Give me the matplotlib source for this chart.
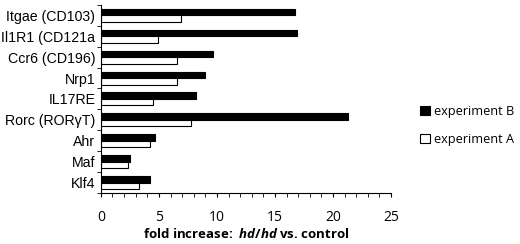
import numpy as np
import matplotlib.pyplot as plt
from matplotlib.ticker import MultipleLocator, FixedLocator

genes = ['Itgae (CD103)', 'Il1R1 (CD121a', 'Ccr6 (CD196)', 'Nrp1', 'IL17RE',
         'Rorc (ROR\u03b3T)', 'Ahr', 'Maf', 'Klf4']
exp_b = [16.7, 16.9, 9.7, 9.0, 8.2, 21.3, 4.7, 2.5, 4.2]
exp_a = [6.9, 4.9, 6.6, 6.6, 4.5, 7.8, 4.2, 2.3, 3.3]

plt.rcParams['font.family'] = ['Liberation Sans', 'DejaVu Sans']
plt.rcParams['mathtext.fontset'] = 'custom'
plt.rcParams['mathtext.it'] = 'Open Sans:italic:bold'
plt.rcParams['mathtext.rm'] = 'Open Sans:bold'

fig = plt.figure(figsize=(5.2, 2.44), dpi=100)
ax = fig.add_axes([0.194, 0.209, 0.558, 0.771])

y = np.arange(len(genes))
h = 0.31
ax.barh(y - h / 2, exp_b, height=h, color='black', edgecolor='black',
        linewidth=0.8, label='experiment B')
ax.barh(y + h / 2, exp_a, height=h, color='white', edgecolor='black',
        linewidth=0.8, label='experiment A')

ax.set_ylim(len(genes) - 0.5, -0.5)
ax.set_xlim(0, 25)
ax.set_yticks(y)
ax.set_yticklabels(genes, fontsize=10.2)
ax.tick_params(axis='y', which='major', length=0, pad=4)
ax.yaxis.set_minor_locator(FixedLocator(np.arange(-0.5, len(genes), 1)))
ax.tick_params(axis='y', which='minor', length=3, direction='out')

ax.xaxis.set_major_locator(MultipleLocator(5))
ax.xaxis.set_minor_locator(MultipleLocator(1))
ax.tick_params(axis='x', which='major', length=3, direction='out', labelsize=10, pad=9)
ax.tick_params(axis='x', which='minor', length=3, direction='out')
for lab in ax.get_xticklabels():
    lab.set_family('Open Sans')

ax.spines['top'].set_visible(False)
ax.spines['right'].set_visible(False)

ax.set_xlabel(r'fold increase:  $hd$/$hd$ vs. control', fontsize=9.5,
              fontweight='bold', family='Open Sans', labelpad=2)

handles, labels = ax.get_legend_handles_labels()
fig.legend(handles, labels, loc='upper left', bbox_to_anchor=(0.808, 0.57),
           frameon=False, prop={'family': 'Open Sans', 'size': 9.2},
           labelspacing=1.2, handlelength=0.75, handleheight=0.75,
           handletextpad=0.3, borderpad=0, borderaxespad=0)

fig.savefig('out.png', dpi=100)
